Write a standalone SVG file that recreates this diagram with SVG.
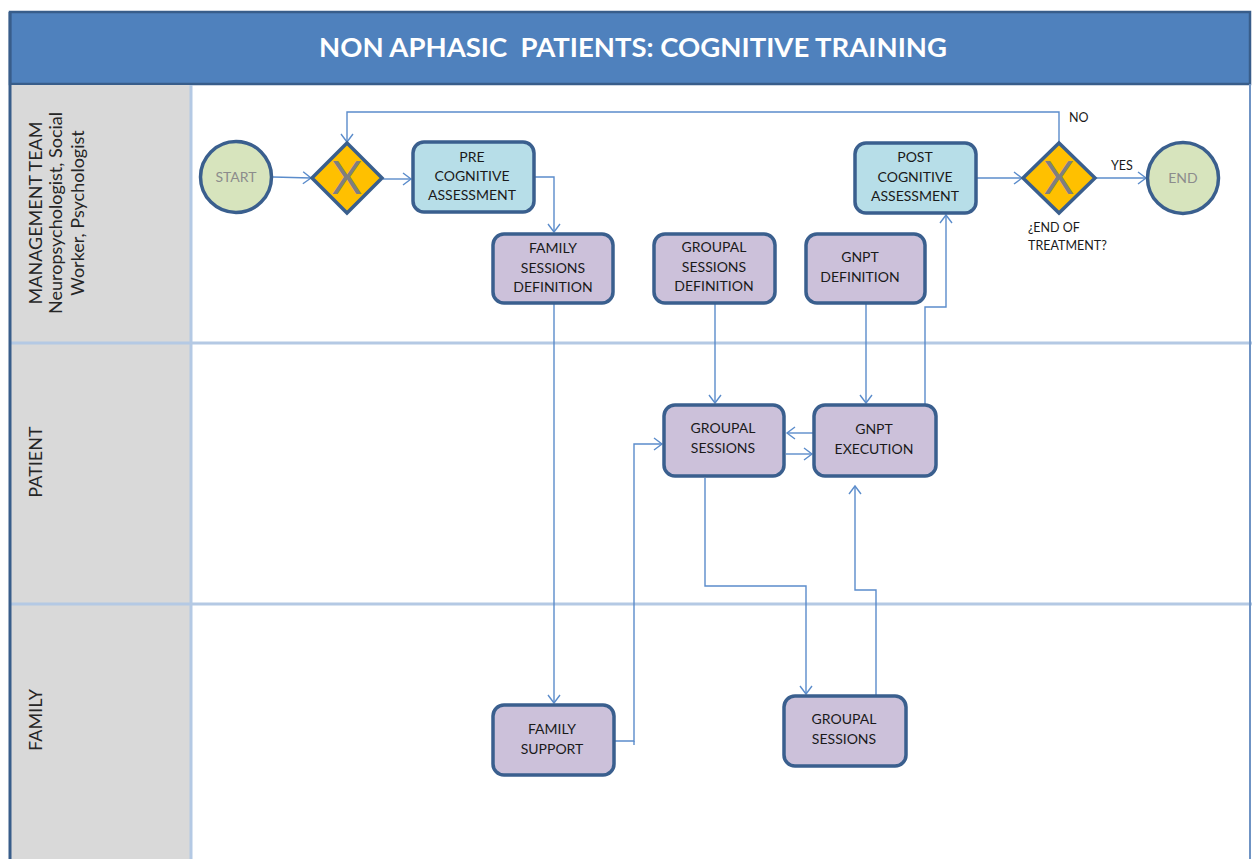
<svg xmlns="http://www.w3.org/2000/svg" width="1253" height="859" viewBox="0 0 1253 859">
  <style>
    .lane-head { fill: #d9d9d9; }
    .lane-line { stroke: #b4c9e4; stroke-width: 3; fill: none; }
    .lane-text { font-family: Lato, "Liberation Sans", sans-serif; font-size: 18px; fill: #262626; text-anchor: middle; }
    .task { stroke: #3a5f8e; stroke-width: 3.5; }
    .task-purple { fill: #ccc1da; }
    .task-blue { fill: #b7dee8; }
    .task-text { font-family: Lato, "Liberation Sans", sans-serif; font-size: 14px; fill: #1a1a1a; text-anchor: middle; }
    .event { fill: #d7e4bd; stroke: #3a5f8e; stroke-width: 3.5; }
    .event-text { font-family: Lato, "Liberation Sans", sans-serif; font-size: 14px; fill: #8c8c8c; text-anchor: middle; }
    .gate { fill: #ffc000; stroke: #3a5f8e; stroke-width: 3.5; }
    .gate-x { font-family: Lato, "Liberation Sans", sans-serif; font-size: 46px; fill: #7f7f7f; text-anchor: middle; }
    .flow { fill: none; stroke: #5b8ccb; stroke-width: 1.4; }
    .note { font-family: Lato, "Liberation Sans", sans-serif; font-size: 12.5px; fill: #1a1a1a; }
  </style>
  <defs>
    <marker id="arrow" markerUnits="userSpaceOnUse" markerWidth="12" markerHeight="14" refX="9" refY="7" orient="auto">
      <path d="M1,1 L9,7 L1,13" fill="none" stroke="#5b8ccb" stroke-width="1.4"/>
    </marker>
  </defs>

  <!-- background -->
  <rect x="0" y="0" width="1253" height="859" fill="#ffffff"/>

  <!-- pool frame and header -->
  <g id="pool">
    <rect x="10" y="12" width="1240" height="72" fill="#4f81bd" stroke="#385d8a" stroke-width="2.5"/>
    <text x="633" y="57" font-family="Lato, 'Liberation Sans', sans-serif" font-size="27.5" font-weight="bold" fill="#ffffff" text-anchor="middle" xml:space="preserve" style="white-space: pre">NON APHASIC  PATIENTS: COGNITIVE TRAINING</text>
    <rect class="lane-head" x="11" y="85" width="179" height="774"/>
    <line class="lane-line" x1="191" y1="85" x2="191" y2="859"/>
    <line class="lane-line" x1="11" y1="343" x2="1252" y2="343"/>
    <line class="lane-line" x1="11" y1="604" x2="1252" y2="604"/>
    <line x1="1250" y1="84" x2="1250" y2="859" stroke="#6f93c4" stroke-width="2"/>
    <line x1="10" y1="12" x2="10" y2="859" stroke="#385d8a" stroke-width="3"/>
  </g>

  <!-- lane titles -->
  <g id="lane-management">
    <text class="lane-text" transform="translate(42,213) rotate(-90)">MANAGEMENT TEAM</text>
    <text class="lane-text" transform="translate(62,213) rotate(-90)">Neuropsychologist, Social</text>
    <text class="lane-text" transform="translate(84,213) rotate(-90)">Worker, Psychologist</text>
  </g>
  <g id="lane-patient">
    <text class="lane-text" transform="translate(42,462) rotate(-90)">PATIENT</text>
  </g>
  <g id="lane-family">
    <text class="lane-text" transform="translate(42,720) rotate(-90)">FAMILY</text>
  </g>

  <!-- connectors -->
  <g id="connectors">
    <path class="flow" d="M273,177 L311,178" marker-end="url(#arrow)"/>
    <path class="flow" d="M383,179 L411,179" marker-end="url(#arrow)"/>
    <path class="flow" d="M535,177 H554 V232" marker-end="url(#arrow)"/>
    <path class="flow" d="M554,304 V703" marker-end="url(#arrow)"/>
    <path class="flow" d="M615,741 H634 V444 H662" marker-end="url(#arrow)"/>
    <path class="flow" d="M634,741 V745"/>
    <path class="flow" d="M715,304 V403" marker-end="url(#arrow)"/>
    <path class="flow" d="M866,304 V403" marker-end="url(#arrow)"/>
    <path class="flow" d="M818,433 H787" marker-end="url(#arrow)"/>
    <path class="flow" d="M786,454 H812" marker-end="url(#arrow)"/>
    <path class="flow" d="M925,404 V307 H946 V215" marker-end="url(#arrow)"/>
    <path class="flow" d="M705,478 V586 H806 V694" marker-end="url(#arrow)"/>
    <path class="flow" d="M876,695 V590 H855 V486" marker-end="url(#arrow)"/>
    <path class="flow" d="M977,178 L1022,178" marker-end="url(#arrow)"/>
    <path class="flow" d="M1096,178 L1146,178" marker-end="url(#arrow)"/>
    <path class="flow" d="M1059,142 V112 H347 V142" marker-end="url(#arrow)"/>
    <text class="note" x="1069" y="122">NO</text>
    <text class="note" x="1111" y="170">YES</text>
  </g>

  <!-- events -->
  <g id="start">
    <circle class="event" cx="236" cy="177" r="35.5"/>
    <text class="event-text" x="236" y="182">START</text>
  </g>
  <g id="end">
    <circle class="event" cx="1183" cy="178" r="35.5"/>
    <text class="event-text" x="1183" y="183">END</text>
  </g>

  <!-- gateways -->
  <g id="gateway-loop">
    <polygon class="gate" points="347,143 382,178 347,213 312,178"/>
    <text class="gate-x" x="347" y="194">X</text>
  </g>
  <g id="gateway-end">
    <polygon class="gate" points="1059,143 1095,178 1059,213 1023,178"/>
    <text class="gate-x" x="1059" y="194">X</text>
    <text class="note" x="1028" y="232">¿END OF</text>
    <text class="note" x="1028" y="250">TREATMENT?</text>
  </g>

  <!-- tasks -->
  <g id="pre-assessment">
    <rect class="task task-blue" x="413" y="142" width="121" height="70" rx="11"/>
    <text class="task-text" x="472" y="162">PRE</text>
    <text class="task-text" x="472" y="181">COGNITIVE</text>
    <text class="task-text" x="472" y="200">ASSESSMENT</text>
  </g>
  <g id="family-sessions-definition">
    <rect class="task task-purple" x="493" y="234" width="120" height="69" rx="11"/>
    <text class="task-text" x="553" y="253">FAMILY</text>
    <text class="task-text" x="553" y="273">SESSIONS</text>
    <text class="task-text" x="553" y="292">DEFINITION</text>
  </g>
  <g id="groupal-sessions-definition">
    <rect class="task task-purple" x="654" y="234" width="121" height="69" rx="11"/>
    <text class="task-text" x="714" y="252">GROUPAL</text>
    <text class="task-text" x="714" y="272">SESSIONS</text>
    <text class="task-text" x="714" y="291">DEFINITION</text>
  </g>
  <g id="gnpt-definition">
    <rect class="task task-purple" x="806" y="234" width="119" height="69" rx="11"/>
    <text class="task-text" x="860" y="262">GNPT</text>
    <text class="task-text" x="860" y="282">DEFINITION</text>
  </g>
  <g id="post-assessment">
    <rect class="task task-blue" x="855" y="143" width="121" height="70" rx="11"/>
    <text class="task-text" x="915" y="162">POST</text>
    <text class="task-text" x="915" y="182">COGNITIVE</text>
    <text class="task-text" x="915" y="201">ASSESSMENT</text>
  </g>
  <g id="groupal-sessions-patient">
    <rect class="task task-purple" x="664" y="405" width="120" height="71" rx="11"/>
    <text class="task-text" x="723" y="433">GROUPAL</text>
    <text class="task-text" x="723" y="453">SESSIONS</text>
  </g>
  <g id="gnpt-execution">
    <rect class="task task-purple" x="814" y="405" width="122" height="71" rx="11"/>
    <text class="task-text" x="874" y="434">GNPT</text>
    <text class="task-text" x="874" y="454">EXECUTION</text>
  </g>
  <g id="family-support">
    <rect class="task task-purple" x="493" y="705" width="121" height="70" rx="11"/>
    <text class="task-text" x="552" y="734">FAMILY</text>
    <text class="task-text" x="552" y="754">SUPPORT</text>
  </g>
  <g id="groupal-sessions-family">
    <rect class="task task-purple" x="784" y="696" width="122" height="70" rx="11"/>
    <text class="task-text" x="844" y="724">GROUPAL</text>
    <text class="task-text" x="844" y="744">SESSIONS</text>
  </g>
</svg>
